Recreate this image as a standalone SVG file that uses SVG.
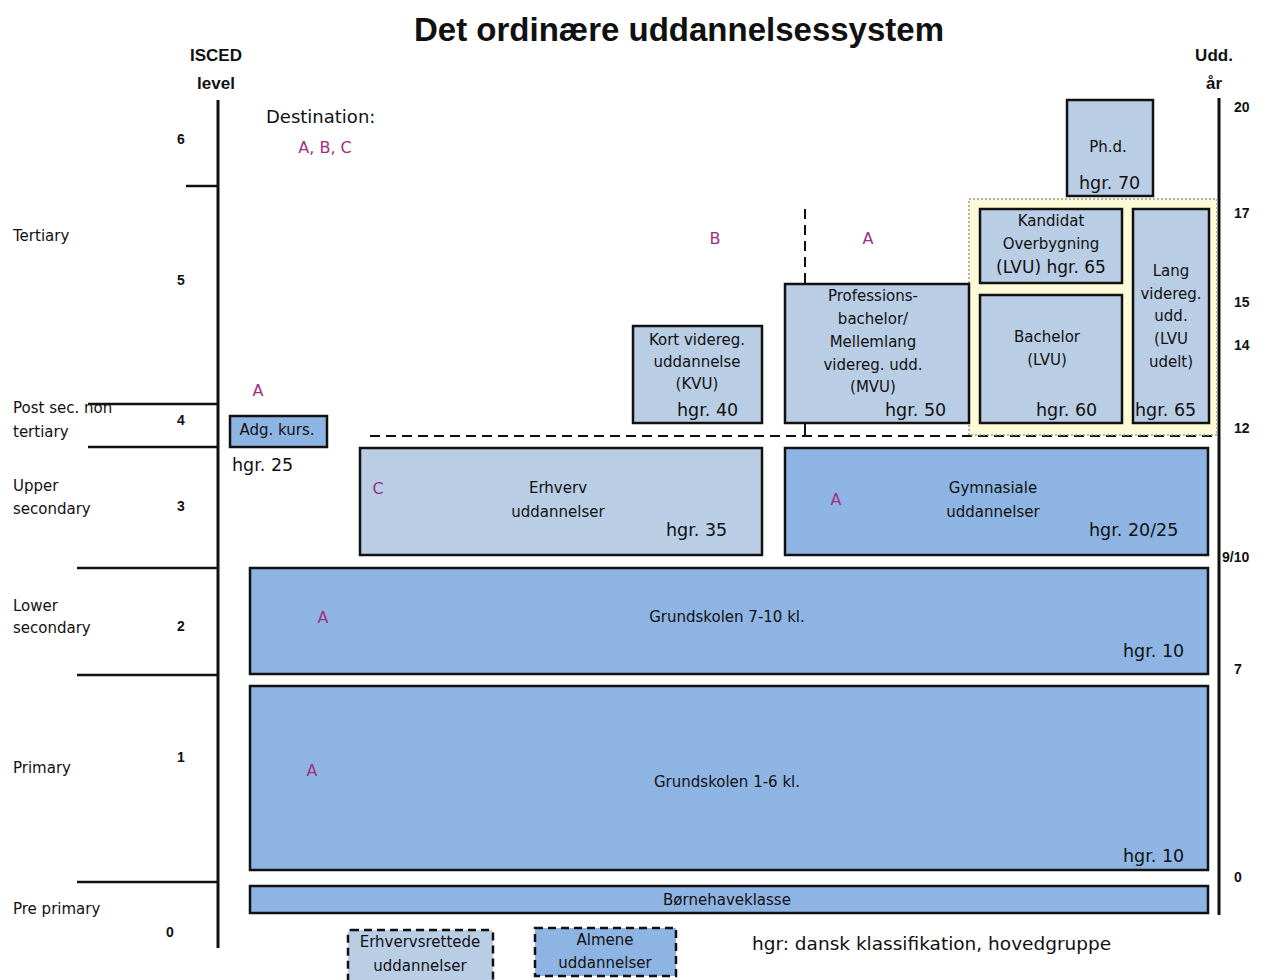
<svg xmlns="http://www.w3.org/2000/svg" width="1266" height="980" viewBox="0 0 1266 980">
<style>
text{font-family:"DejaVu Sans","Liberation Sans",sans-serif;fill:#111;}
.t{font-family:"Liberation Sans",Arial,sans-serif;font-size:33px;font-weight:bold;text-anchor:middle;}
.hd{font-family:"Liberation Sans",Arial,sans-serif;font-size:17px;font-weight:bold;text-anchor:middle;}
.lb{font-size:15px;}
.num{font-family:"Liberation Sans",Arial,sans-serif;font-size:14px;font-weight:bold;}
.bx{font-size:15px;text-anchor:middle;}
.hg{font-size:17.5px;}
.dst{font-size:16px;fill:#a0307f;text-anchor:middle;}
.axis{stroke:#111;stroke-width:3;fill:none;}
.tick{stroke:#111;stroke-width:2.5;fill:none;}
.pale{fill:#b9cde5;stroke:#111;stroke-width:2.5;}
.mid{fill:#8eb4e3;stroke:#111;stroke-width:2.5;}
.dash{stroke:#111;stroke-width:2;stroke-dasharray:10,6;fill:none;}
</style>
<rect width="1266" height="980" fill="#fff"/>
<text class="t" x="679" y="41">Det ordinære uddannelsessystem</text>
<g id="isced-axis">
<text class="hd" x="216" y="61">ISCED</text>
<text class="hd" x="216" y="89">level</text>
<line class="axis" x1="218" y1="100" x2="218" y2="948"/>
<line class="tick" x1="186" y1="186" x2="218" y2="186"/>
<line class="tick" x1="88" y1="404" x2="218" y2="404"/>
<line class="tick" x1="88" y1="447" x2="218" y2="447"/>
<line class="tick" x1="77" y1="568" x2="218" y2="568"/>
<line class="tick" x1="77" y1="675" x2="218" y2="675"/>
<line class="tick" x1="77" y1="882" x2="218" y2="882"/>
<text class="num" x="177" y="144">6</text>
<text class="num" x="177" y="285">5</text>
<text class="num" x="177" y="425">4</text>
<text class="num" x="177" y="511">3</text>
<text class="num" x="177" y="631">2</text>
<text class="num" x="177" y="762">1</text>
<text class="num" x="166" y="937">0</text>
<text class="lb" x="13" y="241">Tertiary</text>
<text class="lb" x="13" y="413">Post sec. non</text>
<text class="lb" x="13" y="437">tertiary</text>
<text class="lb" x="13" y="491">Upper</text>
<text class="lb" x="13" y="514">secondary</text>
<text class="lb" x="13" y="611">Lower</text>
<text class="lb" x="13" y="633">secondary</text>
<text class="lb" x="13" y="773">Primary</text>
<text class="lb" x="13" y="914">Pre primary</text>
</g>
<g id="year-axis">
<text class="hd" x="1214" y="61">Udd.</text>
<text class="hd" x="1214" y="89">år</text>
<line class="axis" x1="1219" y1="98" x2="1219" y2="915"/>
<text class="num" x="1234" y="112">20</text>
<text class="num" x="1234" y="218">17</text>
<text class="num" x="1234" y="307">15</text>
<text class="num" x="1234" y="350">14</text>
<text class="num" x="1234" y="433">12</text>
<text class="num" x="1222" y="562">9/10</text>
<text class="num" x="1234" y="674">7</text>
<text class="num" x="1234" y="882">0</text>
</g>
<g id="destination">
<text x="266" y="123" style="font-size:18px">Destination:</text>
<text class="dst" x="325" y="153">A, B, C</text>
</g>
<g id="connectors">
<line class="dash" x1="805" y1="209" x2="805" y2="423"/>
<line x1="805" y1="423" x2="805" y2="436" stroke="#111" stroke-width="2"/>
<line class="dash" x1="370" y1="436" x2="1217" y2="436"/>
</g>
<g id="lvu-region">
<rect x="969" y="199" width="248" height="236" fill="#fdfbd7" stroke="#999" stroke-width="1.5" stroke-dasharray="2,2"/>
</g>
<g id="phd">
<rect class="pale" x="1067" y="100" width="86" height="96"/>
<text class="bx" x="1108" y="152">Ph.d.</text>
<text class="hg" x="1079" y="189">hgr. 70</text>
</g>
<g id="kandidat">
<rect class="pale" x="980" y="209" width="142" height="74"/>
<text class="bx" x="1051" y="226">Kandidat</text>
<text class="bx" x="1051" y="249">Overbygning</text>
<text x="1051" y="273" style="font-size:17px;text-anchor:middle">(LVU) hgr. 65</text>
</g>
<g id="bachelor">
<rect class="pale" x="980" y="295" width="142" height="128"/>
<text class="bx" x="1047" y="342">Bachelor</text>
<text class="bx" x="1047" y="365">(LVU)</text>
<text class="hg" x="1036" y="416">hgr. 60</text>
</g>
<g id="lang">
<rect class="pale" x="1133" y="209" width="76" height="214"/>
<text class="bx" x="1171" y="276">Lang</text>
<text class="bx" x="1171" y="299">videreg.</text>
<text class="bx" x="1171" y="321">udd.</text>
<text class="bx" x="1171" y="344">(LVU</text>
<text class="bx" x="1171" y="367">udelt)</text>
<text class="hg" x="1135" y="416">hgr. 65</text>
</g>
<g id="mvu">
<rect class="pale" x="785" y="284" width="184" height="139"/>
<text class="bx" x="873" y="301">Professions-</text>
<text class="bx" x="873" y="324">bachelor/</text>
<text class="bx" x="873" y="347">Mellemlang</text>
<text class="bx" x="873" y="370">videreg. udd.</text>
<text class="bx" x="873" y="392">(MVU)</text>
<text class="hg" x="885" y="416">hgr. 50</text>
<text class="dst" x="868" y="244">A</text>
</g>
<g id="kvu">
<rect class="pale" x="633" y="326" width="129" height="97"/>
<text class="bx" x="697" y="345">Kort videreg.</text>
<text class="bx" x="697" y="367">uddannelse</text>
<text class="bx" x="697" y="389">(KVU)</text>
<text class="hg" x="677" y="416">hgr. 40</text>
<text class="dst" x="715" y="244">B</text>
</g>
<g id="adg">
<rect class="mid" x="230" y="416" width="97" height="31"/>
<text class="bx" x="277" y="435">Adg. kurs.</text>
<text class="hg" x="232" y="471">hgr. 25</text>
<text class="dst" x="258" y="396">A</text>
</g>
<g id="erhverv">
<rect class="pale" x="360" y="448" width="402" height="107"/>
<text class="dst" x="378" y="494">C</text>
<text class="bx" x="558" y="493">Erhverv</text>
<text class="bx" x="558" y="517">uddannelser</text>
<text class="hg" x="666" y="536">hgr. 35</text>
</g>
<g id="gymnasiale">
<rect class="mid" x="785" y="448" width="423" height="107"/>
<text class="dst" x="836" y="505">A</text>
<text class="bx" x="993" y="493">Gymnasiale</text>
<text class="bx" x="993" y="517">uddannelser</text>
<text class="hg" x="1089" y="536">hgr. 20/25</text>
</g>
<g id="grund710">
<rect class="mid" x="250" y="568" width="958" height="106"/>
<text class="dst" x="323" y="623">A</text>
<text class="bx" x="727" y="622">Grundskolen 7-10 kl.</text>
<text class="hg" x="1123" y="657">hgr. 10</text>
</g>
<g id="grund16">
<rect class="mid" x="250" y="686" width="958" height="184"/>
<text class="dst" x="312" y="776">A</text>
<text class="bx" x="727" y="787">Grundskolen 1-6 kl.</text>
<text class="hg" x="1123" y="862">hgr. 10</text>
</g>
<g id="boernehave">
<rect class="mid" x="250" y="886" width="958" height="27"/>
<text class="bx" x="727" y="905">Børnehaveklasse</text>
</g>
<g id="legend">
<rect x="348" y="930" width="145" height="60" fill="#b9cde5" stroke="#111" stroke-width="2.5" stroke-dasharray="8,5" rx="3"/>
<text class="bx" x="420" y="947">Erhvervsrettede</text>
<text class="bx" x="420" y="971">uddannelser</text>
<rect x="535" y="928" width="141" height="48" fill="#8eb4e3" stroke="#111" stroke-width="2.5" stroke-dasharray="8,5"/>
<text class="bx" x="605" y="945">Almene</text>
<text class="bx" x="605" y="968">uddannelser</text>
<text x="752" y="950" style="font-size:18.5px">hgr: dansk klassifikation, hovedgruppe</text>
</g>
</svg>
